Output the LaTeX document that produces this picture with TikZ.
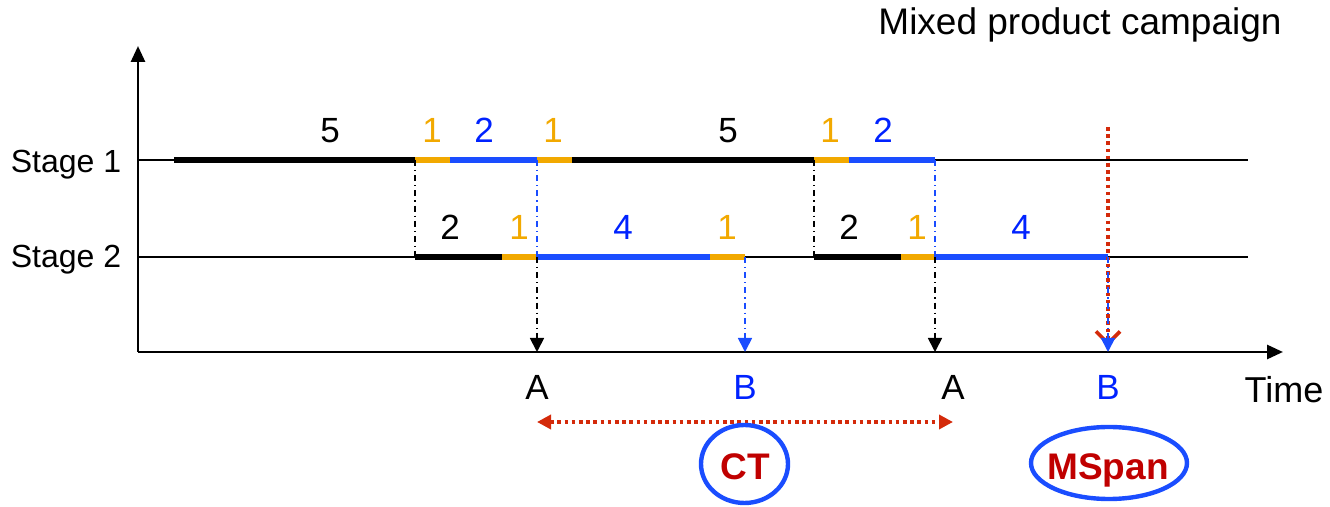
\documentclass[tikz,border=0pt]{standalone}
\usepackage{fontspec}
\setmainfont{Liberation Sans}
\usetikzlibrary{arrows.meta}
\definecolor{cblue}{HTML}{1A4DFF}
\definecolor{tblue}{HTML}{0022FF}
\definecolor{corange}{HTML}{F2A900}
\definecolor{cred}{HTML}{D42A0A}
\definecolor{tred}{HTML}{C00000}
\begin{document}
\begin{tikzpicture}[x=0.5pt,y=-0.5pt,
  txt/.style={font=\fontsize{17.5}{21}\selectfont, inner sep=0pt, anchor=base},
  big/.style={font=\fontsize{18.5}{22}\selectfont},
  small/.style={font=\fontsize{16}{19}\selectfont},
  bar/.style={line width=2.6pt, line cap=butt},
  axis/.style={line width=1.4pt, -{Triangle[width=7pt,length=8pt]}},
  grid/.style={line width=0.9pt},
  dashdot/.style={line width=0.9pt, dash pattern=on 3pt off 2pt on 0.6pt off 2pt},
  tip/.style={-{Triangle[width=7pt,length=7pt]}},
  reddot/.style={cred, line width=1.8pt, dash pattern=on 1.8pt off 1.8pt},
  ovaltxt/.style={inner sep=0pt, anchor=base, font=\fontsize{18.5}{22}\selectfont\bfseries, text=tred},
  oval/.style={draw=cblue, line width=2.2pt}
]
\useasboundingbox (0,0) rectangle (1330,507);

% axes
\coordinate (O) at (138,352);
\coordinate (Ytop) at (138,46);
\coordinate (Xend) at (1283,352);
\draw[axis] (O) -- (Ytop);
\draw[axis] (O) -- (Xend);

% stage lines
\coordinate (s1a) at (138,160); \coordinate (s1b) at (1248,160);
\coordinate (s2a) at (138,257); \coordinate (s2b) at (1248,257);
\draw[grid] (s1a) -- (s1b);
\draw[grid] (s2a) -- (s2b);

% stage labels
\node[txt,small] (st1) at (66,173) {Stage 1};
\node[txt,small] (st2) at (66,268) {Stage 2};
\node[txt,big] (title) at (1080,35) {Mixed product campaign};
\node[txt,font=\fontsize{18}{21}\selectfont] (time) at (1284,403) {Time};

% stage 1 bars
\draw[bar,black] (174,160) -- (415,160);
\draw[bar,corange] (415,160) -- (450,160);
\draw[bar,cblue] (450,160) -- (537,160);
\draw[bar,corange] (537,160) -- (572,160);
\draw[bar,black] (572,160) -- (814,160);
\draw[bar,corange] (814,160) -- (849,160);
\draw[bar,cblue] (849,160) -- (935,160);

% stage 2 bars
\draw[bar,black] (415,257) -- (502,257);
\draw[bar,corange] (502,257) -- (537,257);
\draw[bar,cblue] (537,257) -- (710,257);
\draw[bar,corange] (710,257) -- (745,257);
\draw[bar,black] (814,257) -- (901,257);
\draw[bar,corange] (901,257) -- (935,257);
\draw[bar,cblue] (935,257) -- (1108,257);

% stage 1 labels
\node[txt] (l1) at (330,143) {5};
\node[txt,text=corange] (l2) at (432,143) {1};
\node[txt,text=tblue] (l3) at (484,143) {2};
\node[txt,text=corange] (l4) at (553,143) {1};
\node[txt] (l5) at (728,143) {5};
\node[txt,text=corange] (l6) at (830,143) {1};
\node[txt,text=tblue] (l7) at (883,143) {2};

% stage 2 labels
\node[txt] (m1) at (450,240) {2};
\node[txt,text=corange] (m2) at (519,240) {1};
\node[txt,text=tblue] (m3) at (623,240) {4};
\node[txt,text=corange] (m4) at (727,240) {1};
\node[txt] (m5) at (849,240) {2};
\node[txt,text=corange] (m6) at (917,240) {1};
\node[txt,text=tblue] (m7) at (1021,240) {4};

% vertical links
\coordinate (a1) at (415,160); \coordinate (a2) at (415,257);
\coordinate (b1) at (537,160); \coordinate (b2) at (537,257); \coordinate (b3) at (537,352);
\coordinate (c2) at (745,257); \coordinate (c3) at (745,352);
\coordinate (d1) at (814,160); \coordinate (d2) at (814,257);
\coordinate (e1) at (935,160); \coordinate (e2) at (935,257); \coordinate (e3) at (935,352);
\coordinate (f0) at (1108,127); \coordinate (f1) at (1108,346);
\coordinate (f2) at (1108,257); \coordinate (f3) at (1108,352);

\draw[dashdot] (a1) -- (a2);
\draw[dashdot,cblue] (b1) -- (b2);
\draw[dashdot,tip] (b2) -- (b3);
\draw[dashdot,cblue,tip] (c2) -- (c3);
\draw[dashdot] (d1) -- (d2);
\draw[dashdot,cblue] (e1) -- (e2);
\draw[dashdot,tip] (e2) -- (e3);
\draw[reddot,-{Straight Barb[width=12pt,length=6pt,line width=1.8pt]}] (f0) -- (f1);
\draw[dashdot,cblue,tip] (f2) -- (f3);

% axis labels
\node[txt] (A1) at (537,400) {A};
\node[txt,text=tblue] (B1) at (745,400) {B};
\node[txt] (A2) at (953,400) {A};
\node[txt,text=tblue] (B2) at (1108,400) {B};

% cycle time arrow
\coordinate (ct1) at (537,422); \coordinate (ct2) at (953,422);
\draw[reddot,{Triangle[width=7pt,length=7pt]}-{Triangle[width=7pt,length=7pt]}] (ct1) -- (ct2);

% ovals
\coordinate (ctc) at (744.5,464);
\coordinate (msc) at (1109,463);
\draw[oval] (ctc) ellipse [x radius=21.75pt, y radius=19.5pt];
\draw[oval] (msc) ellipse [x radius=39pt, y radius=18pt];
\node[ovaltxt] (CT) at (745,480) {CT};
\node[ovaltxt] (MS) at (1108,480) {MSpan};
\end{tikzpicture}
\end{document}
